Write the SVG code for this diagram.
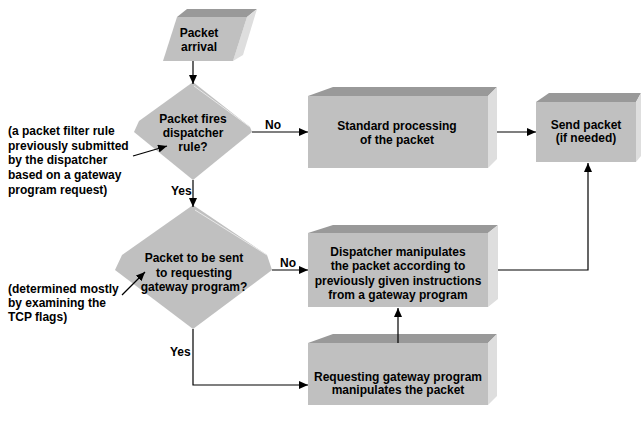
<svg xmlns="http://www.w3.org/2000/svg" width="642" height="422" viewBox="0 0 642 422">
<defs>
<marker id="ah" markerUnits="userSpaceOnUse" markerWidth="10" markerHeight="8" refX="9" refY="4" orient="auto">
<path d="M0,0 L9,4 L0,8 z" fill="#000"/>
</marker>
<style>
.front{fill:#c0c0c0;}
.top{fill:#999999;}
.side{fill:#dedede;}
.t{font-family:"Liberation Sans",Arial,sans-serif;font-size:12px;font-weight:bold;fill:#000;text-anchor:middle;}
.n{font-family:"Liberation Sans",Arial,sans-serif;font-size:12px;font-weight:bold;fill:#000;}
.c{fill:none;stroke:#000;stroke-width:1.2;}
.ca{fill:none;stroke:#000;stroke-width:1.2;marker-end:url(#ah);}
</style>
</defs>
<rect width="642" height="422" fill="#fff"/>

<g id="arrival">
<polygon class="top" points="177,17 187,9 257,9 247,17"/>
<polygon class="side" points="247,17 257,9 243,55 233,61"/>
<polygon class="front" points="177,17 247,17 233,61 163,61"/>
<text class="t" x="199" y="37">Packet</text>
<text class="t" x="199" y="51">arrival</text>
</g>

<g id="decision1">
<polygon class="front" points="134,132 139,121 193,82 250,127 252,132 193,180"/>
<polyline points="194,86 250,127" fill="none" stroke="#e8e8e8" stroke-width="1"/>
<text class="t" x="193" y="123">Packet fires</text>
<text class="t" x="193" y="137">dispatcher</text>
<text class="t" x="193" y="151">rule?</text>
</g>

<g id="decision2">
<polygon class="front" points="115,270 122,255 193,205 267,255 272,270 193,329"/>
<polyline points="195,210 267,255" fill="none" stroke="#e8e8e8" stroke-width="1"/>
<text class="t" x="194" y="262">Packet to be sent</text>
<text class="t" x="194" y="277">to requesting</text>
<text class="t" x="194" y="291">gateway program?</text>
</g>

<g id="standard">
<polygon class="top" points="308,96 333,87 497,87 488,96"/>
<polygon class="side" points="488,96 497,87 497,159 488,168"/>
<rect class="front" x="308" y="96" width="180" height="72"/>
<text class="t" x="397" y="130">Standard processing</text>
<text class="t" x="397" y="144">of the packet</text>
</g>

<g id="send">
<polygon class="top" points="536,102 549,93 641,93 636,102"/>
<polygon class="side" points="636,102 641,93 641,156 636,162"/>
<rect class="front" x="536" y="102" width="100" height="60"/>
<text class="t" x="586" y="129">Send packet</text>
<text class="t" x="586" y="142">(if needed)</text>
</g>

<g id="dispatcher">
<polygon class="top" points="308,233 333,225 498,225 488,233"/>
<polygon class="side" points="488,233 498,225 498,299 488,307"/>
<rect class="front" x="308" y="233" width="180" height="74"/>
<text class="t" x="398" y="256">Dispatcher manipulates</text>
<text class="t" x="398" y="270">the packet according to</text>
<text class="t" x="398" y="285">previously given instructions</text>
<text class="t" x="398" y="299">from a gateway program</text>
</g>

<g id="requesting">
<polygon class="top" points="308,343 333,334 497,334 488,343"/>
<polygon class="side" points="488,343 497,334 497,396 488,405"/>
<rect class="front" x="308" y="343" width="180" height="62"/>
<text class="t" x="398" y="381">Requesting gateway program</text>
<text class="t" x="398" y="394">manipulates the packet</text>
</g>

<g id="note1">
<text class="n" x="8" y="135">(a packet filter rule</text>
<text class="n" x="8" y="150">previously submitted</text>
<text class="n" x="8" y="164">by the dispatcher</text>
<text class="n" x="8" y="179">based on a gateway</text>
<text class="n" x="8" y="194">program request)</text>
</g>

<g id="note2">
<text class="n" x="8" y="293">(determined mostly</text>
<text class="n" x="8" y="307">by examining the</text>
<text class="n" x="8" y="321">TCP flags)</text>
</g>

<g id="connectors">
<line class="ca" x1="193" y1="61" x2="193" y2="84"/>
<line class="ca" x1="252" y1="132" x2="308" y2="132"/>
<text class="n" x="265" y="129">No</text>
<line class="ca" x1="193" y1="180" x2="193" y2="207"/>
<text class="n" x="171" y="195">Yes</text>
<line class="ca" x1="272" y1="270" x2="308" y2="270"/>
<text class="n" x="280" y="267">No</text>
<polyline class="ca" points="193,329 193,385 308,385"/>
<text class="n" x="170" y="356">Yes</text>
<line class="ca" x1="497" y1="132" x2="536" y2="132"/>
<polyline class="ca" points="498,270 588,270 588,163"/>
<line class="ca" x1="398" y1="343" x2="398" y2="308"/>
<line class="ca" x1="133" y1="156" x2="167" y2="146"/>
<line class="ca" x1="122" y1="295" x2="145" y2="272"/>
</g>
</svg>
